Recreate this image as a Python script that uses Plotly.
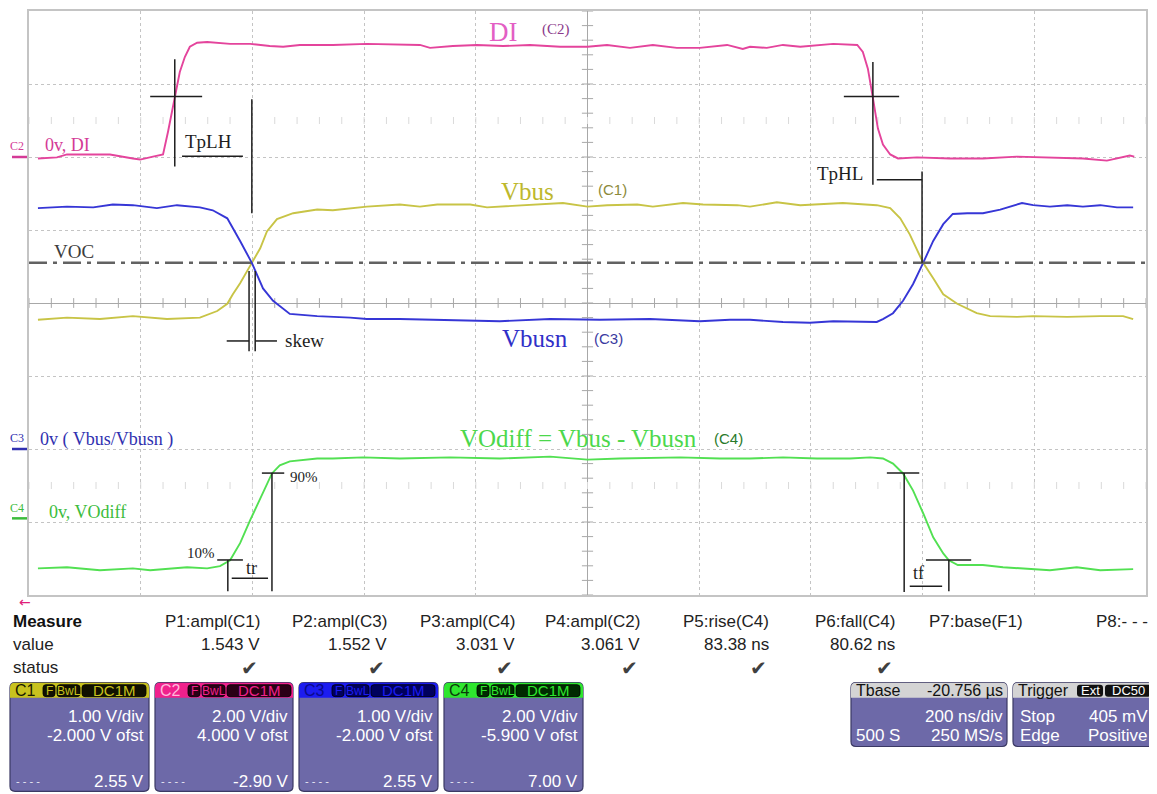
import plotly.graph_objects as go
import numpy as np

# ---------------- data ----------------
# time in ns (200 ns/div, 10 div), values in volts
T_DI = [-984, -950, -932, -855, -814, -801, -778, -760, -751, -739, -730, -721, -712, -699, -681, -640, -604, -569, -545, -515,
        -456, -395, -336, -300, -282, -241, -198, -151, -103, -49, 0, 35, 76, 117, 160, 201, 250, 278, 291, 321,
        350, 381, 440, 483, 493, 502, 511, 520, 529, 542, 556, 590, 649, 708, 769, 828, 887, 930, 971, 979]
V_DI = [-0.04, -0.01, 0.07, 0.07, -0.04, -0.07, 0.01, 0.07, 0.70, 1.65, 2.33, 2.74, 3.02, 3.13, 3.15, 3.10, 3.10, 3.04, 3.02, 3.07,
        3.07, 3.10, 3.07, 3.07, 2.99, 3.04, 3.07, 3.04, 3.07, 3.02, 3.02, 3.07, 2.99, 3.07, 2.99, 2.99, 3.07, 2.96, 3.02, 2.99,
        3.07, 3.02, 3.10, 3.07, 2.88, 2.42, 1.62, 0.78, 0.34, 0.07, -0.04, -0.01, -0.04, -0.04, 0.01, -0.01, -0.04, -0.10, 0.04, 0.01]

T_VBUS = [-984, -932, -873, -814, -753, -694, -663, -645, -635, -622, -601, -586, -574, -556, -527, -484, -456, -395, -336, -300,
          -269, -210, -180, -121, -44, 0, 35, 89, 117, 171, 207, 268, 291, 339, 381, 457, 518, 542, 560, 577,
          601, 619, 637, 662, 697, 721, 769, 798, 859, 918, 959, 977]
V_VBUS = [1.77, 1.80, 1.78, 1.82, 1.78, 1.80, 1.89, 1.99, 2.12, 2.27, 2.55, 2.75, 2.98, 3.15, 3.23, 3.28, 3.27, 3.32, 3.35, 3.32,
          3.35, 3.35, 3.31, 3.34, 3.37, 3.32, 3.34, 3.35, 3.32, 3.37, 3.35, 3.34, 3.32, 3.38, 3.34, 3.37, 3.34, 3.30, 3.16, 2.94,
          2.55, 2.34, 2.12, 1.99, 1.86, 1.82, 1.81, 1.82, 1.81, 1.82, 1.82, 1.78]

T_VBUSN = [-984, -932, -885, -850, -814, -771, -735, -694, -671, -645, -622, -601, -581, -563, -533, -484, -425, -395, -336, -246,
           -157, -67, 22, 112, 201, 255, 291, 350, 398, 440, 470, 518, 529, 547, 565, 583, 601, 619, 637, 654,
           680, 708, 739, 778, 798, 828, 859, 887, 918, 948, 977]
V_VBUSN = [3.30, 3.32, 3.31, 3.35, 3.34, 3.30, 3.34, 3.31, 3.27, 3.16, 2.85, 2.55, 2.20, 2.03, 1.85, 1.82, 1.80, 1.78, 1.78, 1.77,
           1.75, 1.78, 1.77, 1.78, 1.75, 1.77, 1.77, 1.74, 1.73, 1.75, 1.75, 1.74, 1.78, 1.86, 2.03, 2.26, 2.55, 2.85, 3.08, 3.22,
           3.23, 3.23, 3.28, 3.37, 3.34, 3.32, 3.34, 3.32, 3.34, 3.31, 3.31]

T_VODIFF = [-984, -932, -873, -814, -783, -753, -717, -681, -658, -640, -622, -604, -581, -565, -551, -533, -484, -456, -402, -336,
            -246, -157, -67, 0, 58, 166, 237, 291, 350, 411, 470, 506, 529, 547, 565, 583, 601, 619, 637, 647,
            663, 708, 744, 798, 828, 876, 918, 977]
V_VODIFF = [-1.37, -1.34, -1.42, -1.37, -1.42, -1.39, -1.34, -1.37, -1.31, -1.15, -0.68, -0.05, 0.68, 1.23, 1.45, 1.56, 1.64, 1.64, 1.67, 1.64,
            1.67, 1.64, 1.69, 1.61, 1.64, 1.67, 1.64, 1.64, 1.67, 1.64, 1.64, 1.67, 1.64, 1.50, 1.23, 0.76, 0.14, -0.52, -0.96, -1.15,
            -1.28, -1.28, -1.34, -1.39, -1.42, -1.34, -1.42, -1.39]

# channel setup (from the channel boxes)
CHANNELS = ["C1", "C2", "C3", "C4"]
VDIV = [1.00, 2.00, 1.00, 2.00]
OFST = [-2.000, 4.000, -2.000, -5.900]
VDIV_TXT = ["1.00 V/div", "2.00 V/div", "1.00 V/div", "2.00 V/div"]
OFST_TXT = ["-2.000 V ofst", "4.000 V ofst", "-2.000 V ofst", "-5.900 V ofst"]
CURS_TXT = ["2.55 V", "-2.90 V", "2.55 V", "7.00 V"]
VOC_LEVEL = 2.55  # volts on C1 scale

# measurements
MEAS_LABELS = ["P1:ampl(C1)", "P2:ampl(C3)", "P3:ampl(C4)", "P4:ampl(C2)", "P5:rise(C4)", "P6:fall(C4)", "P7:base(F1)", "P8:- - -"]
MEAS_VALUES = ["1.543 V", "1.552 V", "3.031 V", "3.061 V", "83.38 ns", "80.62 ns", "", ""]
MEAS_OK = [True, True, True, True, True, True, False, False]

# cursor segments (t0, div0, t1, div1) in time ns / screen divisions
CURSORS = [
    (-739, 3.34, -739, 1.87), (-783, 2.83, -690, 2.83), (-726, 2.01, -617, 2.01), (-601, 2.79, -601, 1.23),   # TpLH
    (511, 3.30, 511, 1.62), (459, 2.83, 558, 2.83), (518, 1.69, 599, 1.69), (599, 1.80, 599, 0.55),            # TpHL
    (-606, 0.44, -606, -0.66), (-595, 0.44, -595, -0.66), (-646, -0.52, -606, -0.52), (-595, -0.52, -556, -0.52),  # skew
    (-663, -3.52, -617, -3.52), (-644, -3.52, -644, -3.95), (-637, -3.77, -572, -3.77),
    (-565, -2.33, -565, -3.95), (-583, -2.33, -543, -2.33),                                                     # tr
    (536, -2.33, 594, -2.33), (567, -2.33, 567, -3.96), (606, -3.52, 687, -3.52),
    (647, -3.52, 647, -3.95), (577, -3.88, 635, -3.88),                                                         # tf
]

# ---------------- helpers ----------------
PAGE_OFS = 8                      # default page margin of the html body
W, H = 1157 - PAGE_OFS, 794 - PAGE_OFS
PL, PR, PT, PB = 29, 1146, 9, 595  # grid edges in window pixels


def PX(x):
    return (x - PL) / (PR - PL)


def PY(y):
    return (PB - y) / (PB - PT)


def to_div(vals, ch):
    i = CHANNELS.index(ch)
    return [(v + OFST[i]) / VDIV[i] for v in vals]


def rrect(x0, y0, x1, y1, r=4, top_only=False):
    rx = r / (PR - PL)
    ry = r / (PB - PT)
    X0, X1, Y0, Y1 = PX(x0), PX(x1), PY(y0), PY(y1)  # Y0 top, Y1 bottom
    if top_only:
        return (f"M {X0} {Y1} L {X0} {Y0 - ry} Q {X0} {Y0} {X0 + rx} {Y0} L {X1 - rx} {Y0} "
                f"Q {X1} {Y0} {X1} {Y0 - ry} L {X1} {Y1} Z")
    return (f"M {X0 + rx} {Y0} L {X1 - rx} {Y0} Q {X1} {Y0} {X1} {Y0 - ry} L {X1} {Y1 + ry} "
            f"Q {X1} {Y1} {X1 - rx} {Y1} L {X0 + rx} {Y1} Q {X0} {Y1} {X0} {Y1 + ry} L {X0} {Y0 - ry} "
            f"Q {X0} {Y0} {X0 + rx} {Y0} Z")


SANS = "Liberation Sans, Arial, sans-serif"
SERIF = "Liberation Serif, Times New Roman, serif"

fig = go.Figure()

# grid tick marks on the centre lines
tx = np.arange(-1000, 1001, 40)
ty = np.arange(-4, 4.001, 0.2)
fig.add_trace(go.Scatter(x=tx, y=np.zeros_like(tx), mode="markers", hoverinfo="skip",
                         marker=dict(symbol="line-ns", size=7, line=dict(width=1, color="#a8a8a8"))))
fig.add_trace(go.Scatter(x=np.zeros_like(ty), y=ty, mode="markers", hoverinfo="skip",
                         marker=dict(symbol="line-ew", size=8, line=dict(width=1, color="#a8a8a8"))))
for yy in (2.5, -2.5):
    fig.add_trace(go.Scatter(x=tx, y=np.full(len(tx), yy), mode="markers", hoverinfo="skip",
                             marker=dict(symbol="line-ns", size=5, line=dict(width=1, color="#dadada"))))

# VOC line
voc_div = (VOC_LEVEL + OFST[0]) / VDIV[0]
fig.add_shape(type="line", xref="x", yref="y", x0=-1000, x1=1000, y0=voc_div, y1=voc_div,
              line=dict(color="#626262", width=2.5, dash="18px,6px,4px,6px"))

# waveforms
fig.add_trace(go.Scatter(x=T_DI, y=to_div(V_DI, "C2"), mode="lines", line=dict(color="#e4449c", width=1.9), name="DI"))
fig.add_trace(go.Scatter(x=T_VBUS, y=to_div(V_VBUS, "C1"), mode="lines", line=dict(color="#c8c446", width=1.9), name="Vbus"))
fig.add_trace(go.Scatter(x=T_VBUSN, y=to_div(V_VBUSN, "C3"), mode="lines", line=dict(color="#3636d6", width=1.9), name="Vbusn"))
fig.add_trace(go.Scatter(x=T_VODIFF, y=to_div(V_VODIFF, "C4"), mode="lines", line=dict(color="#52e052", width=1.9), name="VOdiff"))

# cursors
for (a, b, c, d) in CURSORS:
    fig.add_shape(type="line", xref="x", yref="y", x0=a, y0=b, x1=c, y1=d,
                  line=dict(color="#1e1e1e", width=1.5))

ann = []


def txt(x, y, s, size, color, family=SERIF, xanchor="center", xref="x", yref="y", bold=False):
    if bold:
        s = "<b>" + s + "</b>"
    ann.append(dict(x=x, y=y, xref=xref, yref=yref, text=s, showarrow=False, xanchor=xanchor, yanchor="middle",
                    font=dict(size=size, color=color, family=family)))


# labels inside the grid
txt(-150, 3.71, "DI", 27, "#e35fc4")
txt(-56, 3.74, "(C2)", 15, "#8b3a8b")
txt(-107, 1.53, "Vbus", 25, "#bdb82c")
txt(44, 1.56, "(C1)", 15, "#8c8a3a", family=SANS)
txt(-94, -0.48, "Vbusn", 25, "#3030c8")
txt(38, -0.49, "(C3)", 15, "#3a3aa0", family=SANS)
txt(-17, -1.86, "VOdiff = Vbus - Vbusn", 25, "#4cd84c")
txt(253, -1.86, "(C4)", 15, "#2a7a2a", family=SANS)
txt(-919, 0.71, "VOC", 19, "#3c3c3c")
txt(-678, 2.21, "TpLH", 19, "#1e1e1e")
txt(452, 1.77, "TpHL", 19, "#1e1e1e")
txt(-545, -0.52, "skew", 19, "#1e1e1e", xanchor="left")
txt(-663, -3.43, "10%", 15, "#1e1e1e", xanchor="right")
txt(-536, -2.38, "90%", 15, "#1e1e1e", xanchor="left")
txt(-601, -3.63, "tr", 18, "#1e1e1e")
txt(592, -3.70, "tf", 18, "#1e1e1e")

# channel zero markers (left)
MARK_COL = {"C2": "#d43a96", "C3": "#3030b0", "C4": "#3cbc3c"}
for ch in ("C2", "C3", "C4"):
    i = CHANNELS.index(ch)
    z = OFST[i] / VDIV[i]
    fig.add_shape(type="line", xref="paper", yref="y", x0=PX(12), x1=PX(27), y0=z, y1=z,
                  line=dict(color=MARK_COL[ch], width=2.5))
txt(PX(17), PY(144), "C2", 12, MARK_COL["C2"], xref="paper", yref="paper")
txt(PX(43), PY(143), "0v, DI", 18, MARK_COL["C2"], xanchor="left", xref="paper", yref="paper")
txt(PX(17), PY(437), "C3", 12, MARK_COL["C3"], xref="paper", yref="paper")
txt(PX(38), PY(439), "0v ( Vbus/Vbusn )", 18, MARK_COL["C3"], xanchor="left", xref="paper", yref="paper")
txt(PX(17), PY(508), "C4", 12, MARK_COL["C4"], xref="paper", yref="paper")
txt(PX(47), PY(512), "0v, VOdiff", 18, MARK_COL["C4"], xanchor="left", xref="paper", yref="paper")
txt(PX(25), PY(602), "←", 14, "#e0207a", family="DejaVu Sans", xref="paper", yref="paper")

# ---------------- measurement table ----------------
txt(PX(11), PY(622), "Measure", 17, "#111111", family=SANS, xanchor="left", xref="paper", yref="paper", bold=True)
txt(PX(11), PY(645), "value", 17, "#222222", family=SANS, xanchor="left", xref="paper", yref="paper")
txt(PX(11), PY(668), "status", 17, "#222222", family=SANS, xanchor="left", xref="paper", yref="paper")
COL_RIGHT = [262, 389, 517, 642, 771, 897, 1025, 1150]
for i, lab in enumerate(MEAS_LABELS):
    xr = COL_RIGHT[i]
    txt(PX(xr), PY(622), lab, 17, "#222222", family=SANS, xanchor="right", xref="paper", yref="paper")
    if MEAS_VALUES[i]:
        txt(PX(xr), PY(645), MEAS_VALUES[i], 17, "#222222", family=SANS, xanchor="right", xref="paper", yref="paper")
    if MEAS_OK[i]:
        txt(PX(xr - 2), PY(668), "✔", 20, "#404040", family="DejaVu Sans", xanchor="right", xref="paper", yref="paper")

# ---------------- channel boxes ----------------
BODY = "#6d69a8"
EDGE = "#3b3964"
BOX_X = [(10, 149), (155, 293), (299, 438), (444, 583)]
HEAD_COL = ["#c8c21e", "#f0218c", "#1c1cf0", "#2ee62e"]
HEAD_TXT = ["#1a1a00", "#ffb8dc", "#0a0a8a", "#0a3a0a"]
BADGE_BG = ["#111100", "#2a0016", "#00005c", "#002a00"]
for i, (x0, x1) in enumerate(BOX_X):
    fig.add_shape(type="path", xref="paper", yref="paper", path=rrect(x0, 683, x1, 792, 5),
                  fillcolor=BODY, line=dict(color=EDGE, width=1.2), layer="above")
    fig.add_shape(type="path", xref="paper", yref="paper", path=rrect(x0, 683, x1, 698, 5, top_only=True),
                  fillcolor=HEAD_COL[i], line=dict(width=0), layer="above")
    txt(PX(x0 + 3), PY(690.5), CHANNELS[i], 16, HEAD_TXT[i], family=SANS, xanchor="left", xref="paper", yref="paper")
    for (b0, b1, s, fs) in ((33, 45, "F", 12), (47, 70, "BwL", 12), (72, 136, "DC1M", 15)):
        fig.add_shape(type="path", xref="paper", yref="paper", path=rrect(x0 + b0, 685, x0 + b1, 697, 3),
                      fillcolor=BADGE_BG[i], line=dict(color="#000000", width=0.8), layer="above")
        txt(PX(x0 + (b0 + b1) / 2), PY(691), s, fs, HEAD_COL[i], family=SANS, xref="paper", yref="paper")
    txt(PX(x1 - 3), PY(717), VDIV_TXT[i], 17, "#ffffff", family=SANS, xanchor="right", xref="paper", yref="paper")
    txt(PX(x1 - 3), PY(736), OFST_TXT[i], 17, "#ffffff", family=SANS, xanchor="right", xref="paper", yref="paper")
    txt(PX(x0 + 4), PY(782), "- - - -", 11, "#e8e8f4", family=SANS, xanchor="left", xref="paper", yref="paper")
    txt(PX(x1 - 3), PY(782), CURS_TXT[i], 17, "#ffffff", family=SANS, xanchor="right", xref="paper", yref="paper")

# timebase box
fig.add_shape(type="path", xref="paper", yref="paper", path=rrect(851, 683, 1007, 747, 5),
              fillcolor=BODY, line=dict(color=EDGE, width=1.2), layer="above")
fig.add_shape(type="path", xref="paper", yref="paper", path=rrect(851, 683, 1007, 698, 5, top_only=True),
              fillcolor="#d4d4d4", line=dict(width=0), layer="above")
txt(PX(854), PY(690.5), "Tbase", 16, "#111111", family=SANS, xanchor="left", xref="paper", yref="paper")
txt(PX(1005), PY(690.5), "-20.756 µs", 16, "#111111", family=SANS, xanchor="right", xref="paper", yref="paper")
txt(PX(1005), PY(717), "200 ns/div", 17, "#ffffff", family=SANS, xanchor="right", xref="paper", yref="paper")
txt(PX(854), PY(736), "500 S", 17, "#ffffff", family=SANS, xanchor="left", xref="paper", yref="paper")
txt(PX(1005), PY(736), "250 MS/s", 17, "#ffffff", family=SANS, xanchor="right", xref="paper", yref="paper")

# trigger box
fig.add_shape(type="path", xref="paper", yref="paper", path=rrect(1013, 683, 1153, 747, 5),
              fillcolor=BODY, line=dict(color=EDGE, width=1.2), layer="above")
fig.add_shape(type="path", xref="paper", yref="paper", path=rrect(1013, 683, 1153, 698, 5, top_only=True),
              fillcolor="#d4d4d4", line=dict(width=0), layer="above")
txt(PX(1016), PY(690.5), "Trigger", 16, "#111111", family=SANS, xanchor="left", xref="paper", yref="paper")
for (b0, b1, s) in ((1077, 1103, "Ext"), (1105, 1151, "DC50")):
    fig.add_shape(type="path", xref="paper", yref="paper", path=rrect(b0, 685, b1, 697, 3),
                  fillcolor="#111111", line=dict(width=0), layer="above")
    txt(PX((b0 + b1) / 2), PY(691), s, 13, "#ffffff", family=SANS, xref="paper", yref="paper")
txt(PX(1018), PY(717), "Stop", 17, "#ffffff", family=SANS, xanchor="left", xref="paper", yref="paper")
txt(PX(1150), PY(717), "405 mV", 17, "#ffffff", family=SANS, xanchor="right", xref="paper", yref="paper")
txt(PX(1018), PY(736), "Edge", 17, "#ffffff", family=SANS, xanchor="left", xref="paper", yref="paper")
txt(PX(1150), PY(736), "Positive", 17, "#ffffff", family=SANS, xanchor="right", xref="paper", yref="paper")

fig.update_layout(
    width=W, height=H,
    margin=dict(l=PL - PAGE_OFS, r=1157 - PR, t=PT - PAGE_OFS, b=794 - PB, pad=0),
    paper_bgcolor="white", plot_bgcolor="white",
    showlegend=False,
    annotations=ann,
    xaxis=dict(range=[-1000, 1000], dtick=200, tick0=-1000, showticklabels=False, ticks="",
               showgrid=True, gridcolor="#c4c4c4", griddash="dot", gridwidth=1,
               zeroline=True, zerolinecolor="#a8a8a8", zerolinewidth=1,
               showline=True, mirror=True, linecolor="#c4c4c4", linewidth=1.5, fixedrange=True),
    yaxis=dict(range=[-4, 4], dtick=1, tick0=-4, showticklabels=False, ticks="",
               showgrid=True, gridcolor="#c4c4c4", griddash="dot", gridwidth=1,
               zeroline=True, zerolinecolor="#a8a8a8", zerolinewidth=1,
               showline=True, mirror=True, linecolor="#c4c4c4", linewidth=1.5, fixedrange=True),
)

fig.write_html("out.html")
